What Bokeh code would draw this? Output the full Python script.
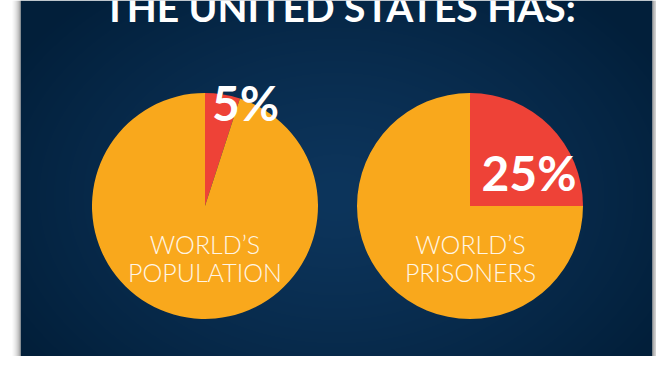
import math
import numpy as np
from bokeh.plotting import figure
from bokeh.models import Range1d, ColumnDataSource
from bokeh.core.properties import value
from bokeh.embed import file_html
from bokeh.resources import INLINE

# ---- data ----
title_text = "THE UNITED STATES HAS:"
label_line1 = ["WORLD’S", "WORLD’S"]
label_line2 = ["POPULATION", "PRISONERS"]
us_share = [5, 25]            # percent of world total held by the US
share_labels = ["5%", "25%"]

# ---- layout / style ----
W, H = 656, 356
ORANGE = "#F9A81C"
RED = "#EE4237"
CREAM = "#FFF6E6"
pie_x = [204.5, 469.5]
pie_y = 150.5
pie_r = 113
pct_x = [245, 528.5]
pct_y = [254, 184]
lab_x = [204.5, 470]
lab_y1 = [113, 113]
lab_y2 = [85, 85]

p = figure(width=W, height=H, x_range=Range1d(0, W), y_range=Range1d(0, H),
           output_backend="svg", toolbar_location=None, min_border=0,
           x_axis_type=None, y_axis_type=None)
p.grid.visible = False
p.outline_line_color = None
p.background_fill_color = "white"
p.border_fill_color = "white"

# radial gradient panel (background styling)
x0, x1 = 20, 652
nx, ny = x1 - x0, H
xs = np.arange(nx) + 0.5
ys = np.arange(ny) + 0.5
XX, YY = np.meshgrid(xs, ys)
cx, cy = nx / 2, 160
d = np.sqrt(((XX - cx) / 380.0) ** 2 + ((YY - cy) / 270.0) ** 2)
t = np.clip(d, 0, 1) ** 1.3
c0 = np.array([13, 53, 92], dtype=float)
c1 = np.array([2, 31, 58], dtype=float)
img = np.empty((ny, nx), dtype=np.uint32)
view = img.view(dtype=np.uint8).reshape((ny, nx, 4))
for k in range(3):
    view[..., k] = (c0[k] + (c1[k] - c0[k]) * t).astype(np.uint8)
view[..., 3] = 255
p.image_rgba(image=[img], x=x0, y=0, dw=nx, dh=ny)

# side shadows
grays_l = [248, 240, 230, 218, 204, 188, 168, 140]
for i, g in enumerate(grays_l):
    col = "#%02x%02x%02x" % (g, g, g)
    p.quad(left=12 + i, right=13 + i, bottom=0, top=H, fill_color=col, line_color=None)
    p.quad(left=659 - i, right=660 - i, bottom=0, top=H, fill_color=col, line_color=None)

# pies
top = math.pi / 2
for i, share in enumerate(us_share):
    end = top - share / 100 * 2 * math.pi
    p.wedge(x=pie_x[i], y=pie_y, radius=pie_r, start_angle=top, end_angle=end,
            direction="clock", fill_color=RED, line_color=None)
    p.wedge(x=pie_x[i], y=pie_y, radius=pie_r, start_angle=end, end_angle=top,
            direction="clock", fill_color=ORANGE, line_color=None)

# percentage labels
src_pct = ColumnDataSource(dict(x=pct_x, y=pct_y, text=share_labels))
p.text(x="x", y="y", text="text", source=src_pct, text_font=value("Lato"),
       text_font_style="bold", text_font_size="48px", text_color="white",
       text_align="center", text_baseline="alphabetic")

# category labels
src_l1 = ColumnDataSource(dict(x=lab_x, y=lab_y1, text=label_line1))
src_l2 = ColumnDataSource(dict(x=lab_x, y=lab_y2, text=label_line2))
for src in (src_l1, src_l2):
    p.text(x="x", y="y", text="text", source=src,
           text_font=value("'Lato Light', Lato"),
           text_font_size="25px", text_color=CREAM,
           text_align="center", text_baseline="alphabetic")

# title (cut off at the top, as in the original)
p.text(x=[339], y=[350], text=[title_text], text_font=value("Lato"),
       text_font_style="bold", text_font_size="39px", text_color="white",
       text_align="center", text_baseline="alphabetic")

open("out.html", "w").write(file_html(p, INLINE))
